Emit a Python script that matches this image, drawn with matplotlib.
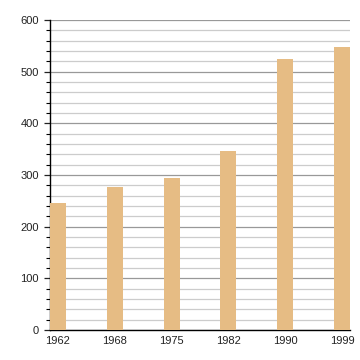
import matplotlib
matplotlib.use("Agg")
import matplotlib.pyplot as plt
from matplotlib.ticker import MultipleLocator

years = ["1962", "1968", "1975", "1982", "1990", "1999"]
values = [245, 276, 295, 347, 524, 548]

plt.rcParams['font.family'] = ['Liberation Sans', 'DejaVu Sans']

fig = plt.figure(figsize=(3.6, 3.6), dpi=100)
ax = fig.add_axes([50/360, 30/360, 300/360, 310/360])

x = list(range(len(years)))
ax.bar(x, values, width=0.28, color='#E6BC84', zorder=3)
ax.set_xlim(-0.14, len(years) - 1 + 0.14)
ax.set_ylim(0, 600)
ax.set_xticks(x)
ax.set_xticklabels(years)
ax.yaxis.set_major_locator(MultipleLocator(100))
ax.yaxis.set_minor_locator(MultipleLocator(20))
ax.grid(axis='y', which='major', color='#999999', linewidth=0.9, zorder=0)
ax.grid(axis='y', which='minor', color='#cccccc', linewidth=0.9, zorder=0)
for s in ['top', 'right']:
    ax.spines[s].set_visible(False)
ax.spines['left'].set_linewidth(1.0)
ax.spines['bottom'].set_linewidth(1.0)
ax.tick_params(axis='y', which='major', length=4, width=0.9, labelsize=8, pad=4, colors='#222222')
ax.tick_params(axis='y', which='minor', length=3, width=0.8)
ax.tick_params(axis='x', length=0, labelsize=8, pad=4, colors='#222222')
ax.set_axisbelow(True)

fig.savefig("out.png", dpi=100)
